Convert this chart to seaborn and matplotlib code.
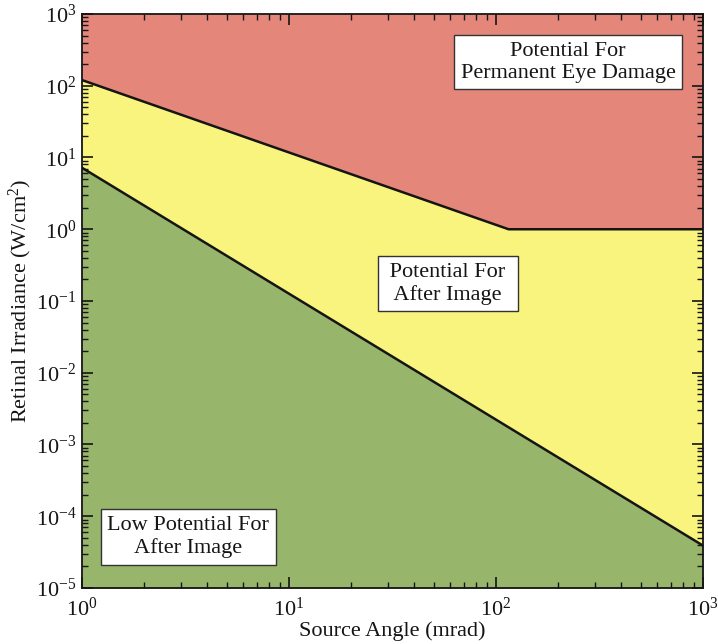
import numpy as np
import pandas as pd
import seaborn as sns
import matplotlib.pyplot as plt
from matplotlib.ticker import LogLocator, LogFormatterSciNotation, NullFormatter

# Boundary between "after image" and "permanent damage" regions
upper_angle = [1.0, 115.0, 1000.0]
upper_irradiance = [120.0, 1.0, 1.0]

# Boundary between "low potential" and "after image" regions
lower_angle = [1.0, 1000.0]
lower_irradiance = [7.2, 3.9e-5]

region_labels = [
    "Potential For\nPermanent Eye Damage",
    "Potential For\nAfter Image",
    "Low Potential For\nAfter Image",
]

sns.set_theme(style="ticks")
plt.rcParams["font.family"] = ["Liberation Serif", "DejaVu Serif"]
plt.rcParams["mathtext.fontset"] = "custom"
plt.rcParams["mathtext.rm"] = "Liberation Serif"
plt.rcParams["mathtext.it"] = "Liberation Serif:italic"
plt.rcParams["mathtext.bf"] = "Liberation Serif:bold"
plt.rcParams["axes.unicode_minus"] = False

red = "#E4867A"
yellow = "#F8F47E"
green = "#98B56C"
ink = "#151515"
fs = 16

fig, ax = plt.subplots(figsize=(7.18, 6.44), dpi=100)
fig.subplots_adjust(left=82 / 718, right=703 / 718, top=1 - 14 / 644, bottom=1 - 588 / 644)

ax.set_xscale("log")
ax.set_yscale("log")
ax.set_xlim(1, 1000)
ax.set_ylim(1e-5, 1e3)

# Interpolate both boundaries on a common log grid for filling
xs = np.logspace(0, 3, 400)
up = 10 ** np.interp(np.log10(xs), np.log10(upper_angle), np.log10(upper_irradiance))
lo = 10 ** np.interp(np.log10(xs), np.log10(lower_angle), np.log10(lower_irradiance))

ax.fill_between(xs, up, 1e3, color=red, lw=0, zorder=0)
ax.fill_between(xs, lo, up, color=yellow, lw=0, zorder=0)
ax.fill_between(xs, 1e-5, lo, color=green, lw=0, zorder=0)

df_up = pd.DataFrame({"angle": upper_angle, "irr": upper_irradiance})
df_lo = pd.DataFrame({"angle": lower_angle, "irr": lower_irradiance})
sns.lineplot(data=df_up, x="angle", y="irr", ax=ax, color=ink, lw=1.8, zorder=2)
sns.lineplot(data=df_lo, x="angle", y="irr", ax=ax, color=ink, lw=1.8, zorder=2)

box = dict(boxstyle="square,pad=0.3", facecolor="white", edgecolor="#333333", linewidth=1.0)
text_kw = dict(ha="center", va="center", fontsize=fs, color=ink, linespacing=1.2, bbox=box, zorder=3)
ax.text(0.783, 0.916, region_labels[0], transform=ax.transAxes, **text_kw)
ax.text(0.589, 0.530, " " + region_labels[1].replace("\n", " \n ") + " ",
        transform=ax.transAxes, **text_kw)
ax.text(0.171, 0.089, region_labels[2], transform=ax.transAxes, **text_kw)

ax.set_xlabel("Source Angle (mrad)", fontsize=fs, color=ink, labelpad=0)
ax.set_ylabel("Retinal Irradiance (W/cm$^2$)", fontsize=fs, color=ink, labelpad=1)

for axis in (ax.xaxis, ax.yaxis):
    axis.set_major_locator(LogLocator(base=10, numticks=20))
    axis.set_minor_locator(LogLocator(base=10, subs=np.arange(2, 10), numticks=20))
    axis.set_major_formatter(LogFormatterSciNotation())
    axis.set_minor_formatter(NullFormatter())

ax.tick_params(which="both", direction="in", top=True, right=True, colors=ink, labelsize=fs)
ax.tick_params(which="major", length=8, width=1.2)
ax.tick_params(axis="y", which="major", pad=4)
ax.tick_params(axis="x", which="major", pad=7)
ax.tick_params(which="minor", length=4, width=1.0)
for s in ax.spines.values():
    s.set_color(ink)
    s.set_linewidth(1.3)
ax.grid(False)

fig.savefig("out.png", dpi=100)
